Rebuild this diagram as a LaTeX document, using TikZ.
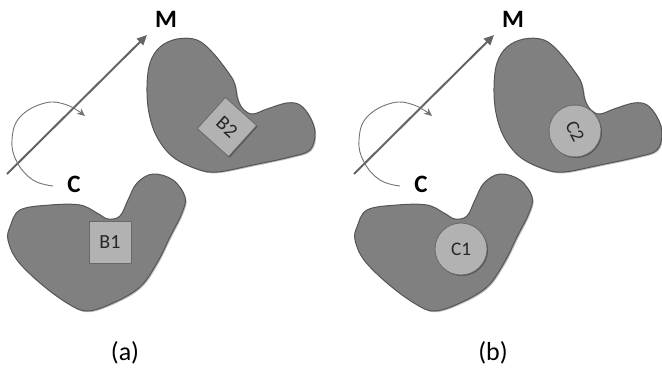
\documentclass[tikz,border=0pt]{standalone}
\usepackage{fontspec}
\setmainfont{Carlito}
\usetikzlibrary{arrows.meta,shadows}
\definecolor{blobgray}{RGB}{128,128,128}
\definecolor{blobedge}{RGB}{85,85,85}
\definecolor{boxfill}{RGB}{178,178,178}
\definecolor{boxedge}{RGB}{105,105,105}
\definecolor{axisgray}{RGB}{100,100,100}
\definecolor{arcgray}{RGB}{115,115,115}
\tikzset{
  blob/.style={fill=blobgray, draw=blobedge, line width=0.5pt,
    drop shadow={shadow xshift=0.6pt,shadow yshift=-0.6pt,opacity=0.25,fill=black}},
  axisline/.style={draw=axisgray, line width=1pt, -{Triangle[length=5pt,width=4.5pt]}},
  rotarc/.style={draw=arcgray, line width=0.45pt, -{Stealth[length=4pt,width=3.5pt]}},
  lbl/.style={font=\fontsize{12.5}{14}\selectfont\bfseries, text=black, inner sep=0pt},
  caption/.style={font=\fontsize{13}{15}\selectfont, text=black, inner sep=0pt},
  sqbox/.style={draw=boxedge, fill=boxfill, line width=0.4pt, minimum size=21pt, inner sep=0pt,
    font=\fontsize{10}{12}\selectfont, text=black!85,
    drop shadow={shadow xshift=0.5pt,shadow yshift=-0.5pt,opacity=0.35,fill=black}},
  circbox/.style={circle, draw=boxedge, fill=boxfill, line width=0.4pt, minimum size=26pt, inner sep=0pt,
    font=\fontsize{9.6}{12}\selectfont, text=black!85,
    drop shadow={shadow xshift=0.5pt,shadow yshift=-0.5pt,opacity=0.35,fill=black}}
}
\newcommand{\drawpanel}[1]{%
  % upper blob
  \path[blob] plot[smooth cycle, tension=0.6] coordinates {
    (177,39) (160,47) (150,63) (147,87) (149,113) (157,137) (173,157) (197,169)
    (217,172) (253,165) (290,157) (310,150) (315,133) (310,117) (300,105)
    (287,103) (267,109) (253,114) (244,110) (238,100) (235,85) (230,75)
    (213,53) (197,40)};
  % lower blob
  \path[blob] plot[smooth cycle, tension=0.6] coordinates {
    (10,227) (20,210) (50,205) (80,205) (97,213) (108,219) (120,216) (128,200)
    (137,183) (153,174) (173,180) (185,197) (182,213) (170,237) (157,263)
    (140,287) (113,303) (87,311) (67,303) (40,283) (17,260) (8,240)};
  % translation axis
  \coordinate (axs#1) at (7,174);
  \coordinate (axe#1) at (147,35);
  \draw[axisline] (axs#1) -- (axe#1);
  % rotation arc
  \draw[rotarc] plot[smooth, tension=0.7] coordinates {
    (53,186) (33,180) (17,162) (12,140) (20,117) (45,103) (67,105) (85,116)};
  \node[lbl] (M#1) at (166,19) {M};
  \node[lbl] (C#1) at (74,184) {C};
}
\begin{document}
\begin{tikzpicture}[x=0.5pt,y=-0.5pt]
\useasboundingbox (0,0) rectangle (662,369);
\fill[white] (0,0) rectangle (662,369);
% panel (a)
\begin{scope}
  \drawpanel{a}
\end{scope}
\node[sqbox, rotate=-42] (B2) at (227,127) {B2};
\node[sqbox] (B1) at (110,242) {B1};
\node[caption] (capa) at (125,353) {(a)};
% panel (b)
\begin{scope}[shift={(347,0)}]
  \drawpanel{b}
\end{scope}
\node[circbox, rotate=-62] (C2) at (575,131) {C2};
\node[circbox] (C1) at (461,249) {C1};
\node[caption] (capb) at (493,353) {(b)};
\end{tikzpicture}
\end{document}
